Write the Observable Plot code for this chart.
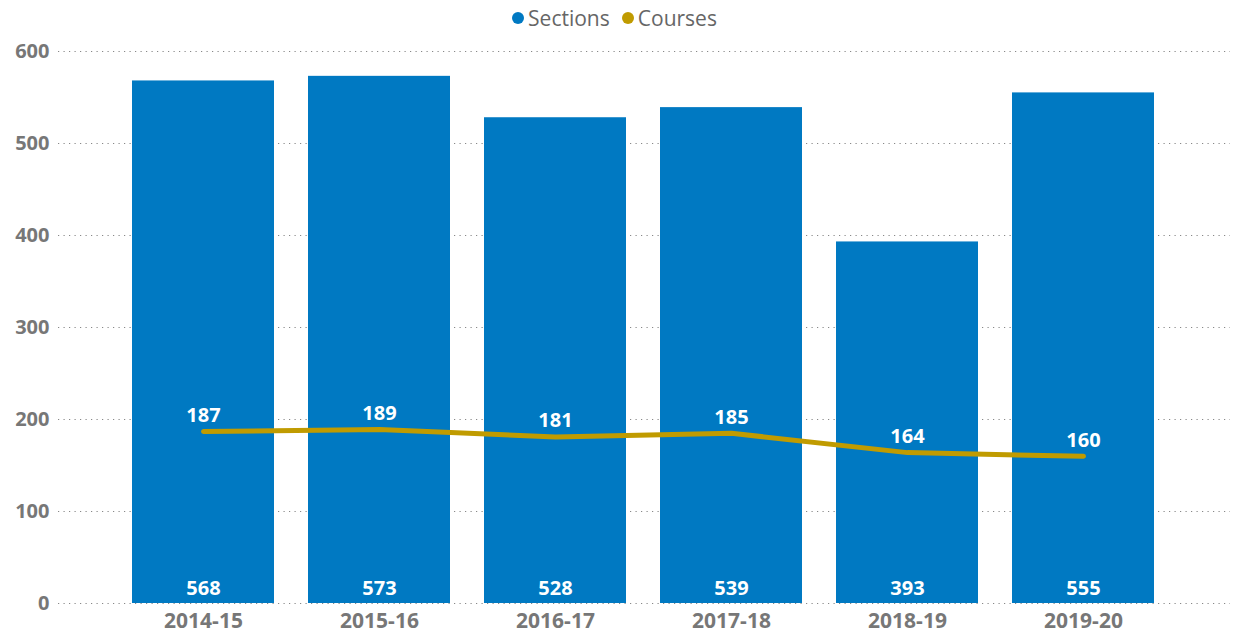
<!DOCTYPE html>
<html><head><meta charset="utf-8">
<script src="https://cdn.jsdelivr.net/npm/d3@7"></script>
<script src="https://cdn.jsdelivr.net/npm/@observablehq/plot@0.6"></script>
<style>
body{margin:0;background:#fff;font-family:"Open Sans","Noto Sans",sans-serif;}
#legend{height:36px;display:flex;justify-content:center;align-items:center;gap:12px;font-size:21px;color:#666;padding-right:6px;box-sizing:border-box}
#legend span{display:inline-flex;align-items:center;}
#legend i{display:inline-block;width:12px;height:12px;border-radius:50%;margin-right:4px}
</style></head><body>
<div id="legend"></div>
<div id="chart"></div>
<script>
const years = ["2014-15","2015-16","2016-17","2017-18","2018-19","2019-20"];
const sections = [568,573,528,539,393,555];
const courses = [187,189,181,185,164,160];
const yTicks = [0,100,200,300,400,500,600];
const seriesNames = ["Sections","Courses"];
const seriesColors = ["#0079C2","#C09B00"];

document.getElementById("legend").innerHTML = seriesNames.map((n,i)=>
  `<span><i style="background:${seriesColors[i]}"></i>${n}</span>`).join("");

const data = years.map((y,i)=>({year:y, sections:sections[i], courses:courses[i]}));

const W = 1235, H = 598;
const chart = Plot.plot({
  width: W, height: H,
  marginLeft: 58, marginRight: 5, marginTop: 15, marginBottom: 31,
  style: {fontFamily: '"Open Sans","Noto Sans",sans-serif', background: "#fff"},
  x: {domain: years, range: [95, 1191], padding: 0.195, label: null},
  y: {domain: [0, 600], label: null},
  marks: [
    Plot.ruleY(yTicks, {stroke: "#888", strokeDasharray: "1.2,4.3", strokeWidth: 1.2}),
    Plot.barY(data, {x: "year", y: "sections", fill: seriesColors[0]}),
    Plot.text(data, {x: "year", y: 0, text: d => String(d.sections), dy: -15, fill: "white", fontWeight: "bold", fontSize: 20}),
    Plot.line(data, {x: "year", y: "courses", stroke: seriesColors[1], strokeWidth: 5, strokeLinecap: "round", curve: "linear"}),
    Plot.text(data, {x: "year", y: "courses", text: d => String(d.courses), dy: -16, fill: "white", fontWeight: "bold", fontSize: 20}),
    Plot.axisY(yTicks, {tickSize: 0, tickPadding: 9, fontSize: 20, fontWeight: "bold", fill: "#777", label: null}),
    Plot.axisX({tickSize: 0, tickPadding: 10, fontSize: 21, fontWeight: "bold", fill: "#777", label: null})
  ]
});
document.getElementById("chart").appendChild(chart);
</script>
</body></html>
